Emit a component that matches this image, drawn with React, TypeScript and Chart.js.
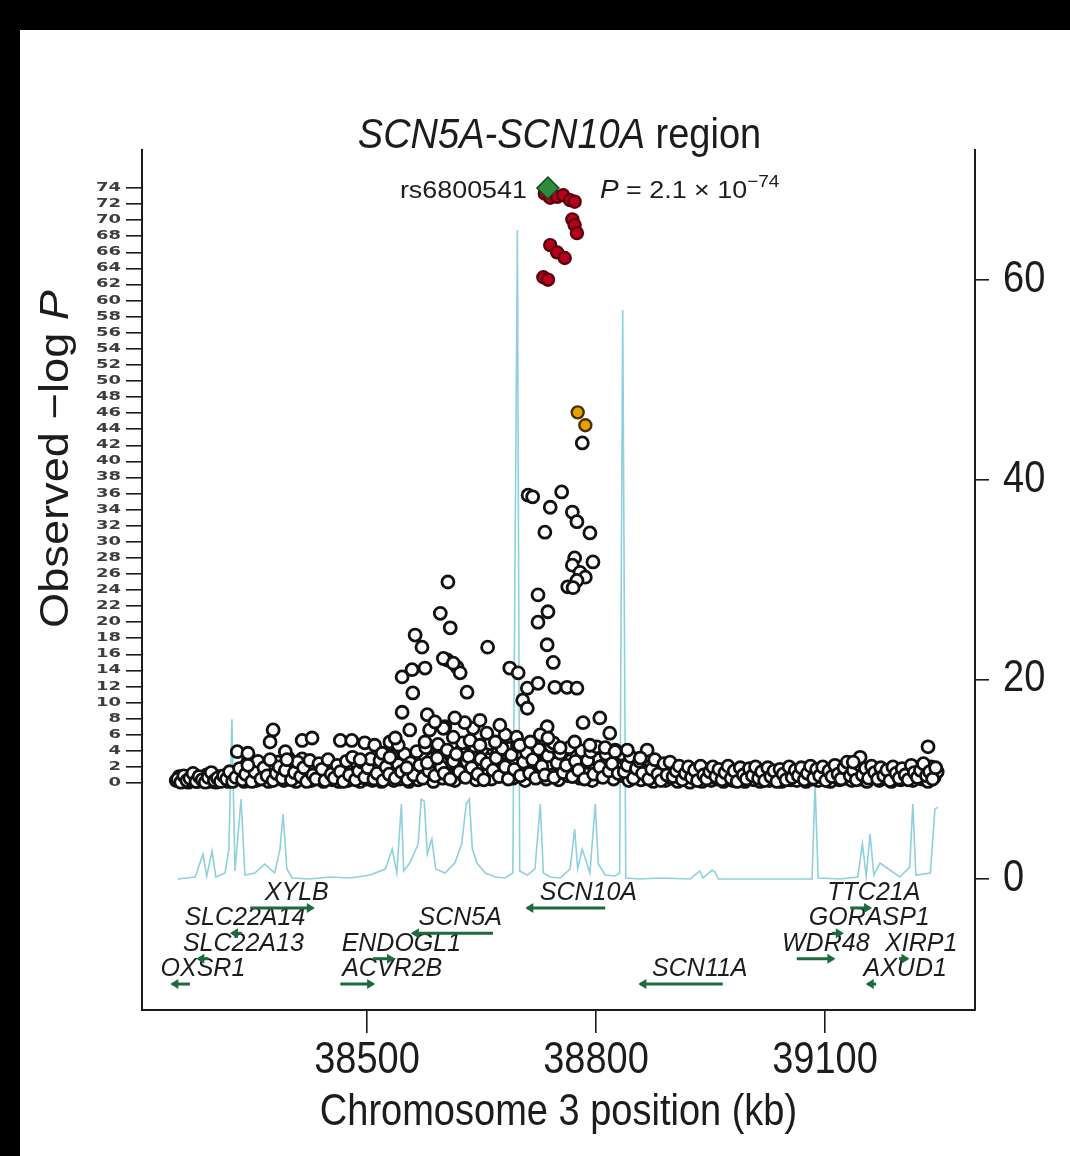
import React, { useEffect, useRef } from "react";
import { Chart, registerables } from "chart.js";

Chart.register(...registerables);

// ---------------- data ----------------
const xTicks = [38500, 38800, 39100];
const leftTicks = [0, 2, 4, 6, 8, 10, 12, 14, 16, 18, 20, 22, 24, 26, 28, 30, 32, 34, 36, 38, 40, 42, 44, 46, 48, 50, 52, 54, 56, 58, 60, 62, 64, 66, 68, 70, 72, 74];
const rightTicks = [0, 20, 40, 60];

const titleItalic = "SCN5A-SCN10A";
const titlePlain = " region";
const xTitle = "Chromosome 3 position (kb)";
const yTitlePlain = "Observed \u2212log ";
const yTitleItalic = "P";

const indexSnpName = "rs6800541";
const indexSnpMantissa = "2.1";
const indexSnpExponent = "\u221274";

// [position kb, -log10 P]
const indexSnp: [number, number][] = [[38737, 74.0]];

const redSnps: [number, number][] = [
  [38733, 73.3], [38740, 72.8], [38749, 72.9], [38757, 73.1], [38766, 72.5], [38772, 72.3],
  [38769, 70.1], [38772, 69.4], [38775, 68.4], [38740, 66.9], [38749, 66.0], [38759, 65.3],
  [38731, 62.9], [38737, 62.6],
];

const orangeSnps: [number, number][] = [[38776, 46.1], [38786, 44.5]];

const clusterSnps: [number, number][] = [
  [38782, 42.3],
  [38711, 35.8], [38717, 35.6], [38755, 36.2], [38740, 34.3], [38769, 33.7], [38775, 32.5],
  [38792, 31.1], [38733, 31.2], [38772, 28.0], [38796, 27.5], [38769, 27.1], [38779, 26.2],
  [38786, 25.6], [38775, 25.2], [38763, 24.4], [38770, 24.3], [38724, 23.4], [38737, 21.3],
  [38724, 20.0], [38736, 17.2], [38744, 15.0], [38606, 25.0], [38596, 21.1], [38609, 19.3],
  [38658, 16.9], [38605, 15.3], [38618, 14.4], [38622, 13.7], [38631, 11.3], [38687, 14.3],
  [38698, 13.7], [38710, 11.8], [38724, 12.4], [38746, 11.9], [38762, 11.9], [38775, 11.8],
  [38704, 10.3], [38710, 9.3], [38805, 8.1], [38818, 6.2], [38783, 7.5], [38736, 7.0],
  [38727, 6.0], [38744, 5.0], [38696, 5.7], [38681, 6.0], [38657, 6.2], [38639, 6.8],
  [38628, 7.5], [38602, 7.0], [38613, 5.7],
  [38563, 18.4], [38572, 16.9], [38600, 15.5], [38613, 14.9], [38576, 14.3], [38559, 14.1],
  [38546, 13.2], [38560, 11.2], [38546, 8.8], [38579, 8.5], [38582, 6.6], [38600, 6.8],
  [38576, 5.1], [38377, 6.6], [38373, 5.1], [38415, 5.3], [38428, 5.6], [38465, 5.3],
  [38480, 5.3], [38497, 5.0], [38510, 4.7], [38530, 5.1], [38541, 4.7], [38330, 3.9],
  [38344, 3.7], [38344, 2.2], [38393, 3.9], [38395, 2.9], [38491, 2.9], [38520, 3.7],
  [38530, 3.2], [38552, 1.9], [38579, 2.5], [38592, 3.1],
  [38841, 4.1], [38867, 4.1], [38858, 3.1], [39146, 3.2], [39137, 2.6], [39235, 4.5],
  [38635, 5.3], [38648, 4.7], [38668, 5.1], [38700, 4.7], [38753, 4.4], [38772, 5.1],
  [38792, 4.7], [38812, 4.4], [38825, 3.9], [38674, 7.2], [38648, 7.8], [38615, 8.1],
  [38589, 7.6], [38714, 5.1], [38737, 5.6], [38556, 6.6], [38537, 5.6],
];

const backgroundSnps: [number, number][] = [
  [38250, 0.3], [38254, 0.8], [38258, 0.2], [38262, 0.6], [38266, 0.1], [38270, 0.9], [38274, 0.4],
  [38278, 0.2], [38282, 0.7], [38286, 0.3], [38290, 1.0], [38294, 0.2], [38298, 0.5], [38302, 0.1],
  [38306, 0.8], [38310, 0.3], [38314, 0.6], [38318, 0.2], [38322, 1.1], [38326, 0.4],
  [38331, 0.6], [38335, 1.3], [38339, 0.2], [38343, 2.4], [38347, 0.9], [38351, 1.6], [38355, 0.3],
  [38359, 2.0], [38363, 0.7], [38367, 1.2], [38371, 0.2], [38375, 1.8], [38379, 0.5], [38383, 2.6],
  [38387, 1.0], [38391, 0.3], [38395, 1.5], [38399, 0.6], [38403, 2.3], [38407, 0.2], [38411, 1.1],
  [38415, 3.0], [38419, 0.5], [38423, 1.7], [38427, 0.3], [38431, 2.1], [38435, 0.8], [38439, 1.4],
  [38443, 0.2], [38447, 0.9], [38451, 2.0], [38455, 0.4], [38459, 1.2], [38463, 0.2], [38467, 1.9],
  [38471, 0.7], [38475, 0.3], [38479, 1.5], [38483, 0.6], [38487, 2.4], [38491, 0.2], [38495, 1.0],
  [38499, 0.5], [38503, 1.7], [38507, 0.3], [38511, 2.2], [38515, 0.8], [38519, 0.2], [38523, 1.4],
  [38527, 0.6], [38531, 2.5], [38535, 0.3], [38539, 1.1], [38543, 0.5], [38547, 2.0], [38551, 0.9],
  [38555, 0.2], [38559, 1.6],
  [38563, 2.8], [38567, 0.4], [38571, 1.3], [38575, 3.4], [38579, 0.7], [38583, 2.0], [38587, 0.2],
  [38591, 1.5], [38595, 3.8], [38599, 0.6], [38603, 2.4], [38607, 1.0], [38611, 3.2], [38615, 0.3],
  [38619, 1.8], [38623, 4.0], [38627, 0.8], [38631, 2.6], [38635, 1.2], [38639, 3.5], [38643, 0.4],
  [38647, 2.0], [38651, 4.2], [38655, 1.0], [38659, 2.9], [38663, 0.5], [38667, 1.6], [38671, 3.7],
  [38675, 0.9], [38679, 2.3], [38683, 1.3], [38687, 4.3], [38691, 0.6], [38695, 2.7], [38699, 1.1],
  [38703, 3.3], [38707, 0.3], [38711, 1.9], [38715, 4.5], [38719, 0.8], [38723, 2.5], [38727, 1.4],
  [38731, 3.9], [38735, 0.5], [38739, 2.2], [38743, 1.0], [38747, 3.1], [38751, 0.4], [38755, 1.7],
  [38759, 4.1], [38763, 0.9], [38767, 2.8], [38771, 1.3], [38775, 3.6], [38779, 0.6], [38783, 2.1],
  [38787, 1.1], [38791, 3.4], [38795, 0.3], [38799, 1.8], [38803, 2.9], [38807, 0.8], [38811, 2.3],
  [38815, 1.4], [38819, 3.2], [38823, 0.5], [38827, 1.9], [38831, 2.6],
  [38835, 0.9], [38839, 2.8], [38843, 0.3], [38847, 2.4], [38851, 1.0], [38855, 3.0], [38859, 0.4],
  [38863, 2.1], [38867, 0.8], [38871, 2.6], [38875, 0.2], [38879, 1.9], [38883, 0.7], [38887, 2.2],
  [38891, 0.3], [38895, 1.6], [38899, 0.6], [38903, 2.0], [38907, 0.2], [38911, 1.3], [38915, 0.5],
  [38919, 1.8], [38923, 0.1], [38927, 1.0], [38931, 0.4], [38935, 1.5], [38939, 0.2], [38943, 0.9],
  [38947, 1.7], [38951, 0.3], [38955, 1.1], [38959, 0.5], [38963, 1.4], [38967, 0.2], [38971, 0.8],
  [38975, 1.6], [38979, 0.3], [38983, 1.0], [38987, 0.6], [38991, 1.3], [38995, 0.2], [38999, 0.9],
  [39003, 1.5], [39007, 0.4], [39011, 1.1], [39015, 0.2], [39019, 0.8], [39023, 1.4], [39027, 0.3],
  [39031, 1.0], [39035, 0.6], [39039, 1.2], [39043, 0.2], [39047, 0.9], [39051, 1.6], [39055, 0.4],
  [39059, 1.1], [39063, 0.3], [39067, 1.3], [39071, 0.7], [39075, 0.2], [39079, 1.5], [39083, 0.5],
  [39087, 1.0], [39091, 0.3], [39095, 1.2], [39099, 0.6], [39103, 1.4], [39107, 0.2], [39111, 1.0],
  [39115, 1.7], [39119, 0.4], [39123, 1.2], [39127, 0.6], [39131, 2.0], [39135, 0.3], [39139, 1.1],
  [39143, 1.8], [39147, 0.5], [39151, 1.3], [39155, 0.2], [39159, 1.6], [39163, 0.7], [39167, 1.0],
  [39171, 0.3], [39175, 1.4], [39179, 0.6], [39183, 1.1], [39187, 0.2], [39191, 1.5], [39195, 0.8],
  [39199, 0.4], [39203, 1.2], [39207, 0.6], [39211, 1.7], [39215, 0.3], [39219, 1.0], [39223, 1.9],
  [39227, 0.5], [39231, 1.3], [39235, 0.2], [39239, 2.0], [39243, 0.7], [39247, 1.4],
];

const backgroundSnps2: [number, number][] = [
  [38252, 0.5], [38256, 0.1], [38260, 0.9], [38264, 0.3], [38268, 0.6], [38272, 1.2], [38276, 0.2],
  [38280, 0.8], [38284, 0.4], [38288, 0.1], [38292, 0.7], [38296, 1.3], [38300, 0.3], [38304, 0.6],
  [38308, 0.2], [38312, 0.9], [38316, 0.5], [38320, 1.4], [38324, 0.2], [38328, 0.7],
  [38333, 1.8], [38337, 0.4], [38341, 1.1], [38345, 3.0], [38349, 0.2], [38353, 1.4], [38357, 2.7],
  [38361, 0.5], [38365, 1.9], [38369, 0.9], [38373, 2.9], [38377, 0.3], [38381, 1.2], [38385, 2.0],
  [38389, 0.6], [38393, 1.6], [38397, 3.1], [38401, 0.4], [38405, 1.3], [38409, 2.6], [38413, 0.8],
  [38417, 1.9], [38421, 0.2], [38425, 2.8], [38429, 1.0], [38433, 0.5], [38437, 2.4], [38441, 1.7],
  [38445, 0.3], [38449, 2.9], [38453, 1.1], [38457, 0.6], [38461, 2.2], [38465, 1.4], [38469, 0.2],
  [38473, 2.7], [38477, 1.0], [38481, 3.2], [38485, 0.4], [38489, 1.5], [38493, 2.6], [38497, 0.7],
  [38501, 1.9], [38505, 3.0], [38509, 0.5], [38513, 1.2], [38517, 2.8], [38521, 0.3], [38525, 2.0],
  [38529, 1.1], [38533, 3.4], [38537, 0.6], [38541, 2.3], [38545, 1.4], [38549, 3.6], [38553, 0.4],
  [38557, 2.5],
  [38561, 1.0], [38565, 3.9], [38569, 2.2], [38573, 0.6], [38577, 4.4], [38581, 1.5], [38585, 3.0],
  [38589, 0.9], [38593, 4.8], [38597, 2.0], [38601, 1.2], [38605, 4.1], [38609, 0.5], [38613, 2.7],
  [38617, 3.6], [38621, 1.4], [38625, 5.0], [38629, 0.7], [38633, 3.3], [38637, 1.9], [38641, 4.6],
  [38645, 1.1], [38649, 3.0], [38653, 0.4], [38657, 2.4], [38661, 4.9], [38665, 1.6], [38669, 3.1],
  [38673, 0.8], [38677, 4.3], [38681, 2.0], [38685, 0.5], [38689, 3.5], [38693, 1.7], [38697, 4.7],
  [38701, 0.9], [38705, 2.6], [38709, 3.8], [38713, 1.2], [38717, 2.9], [38721, 0.6], [38725, 4.2],
  [38729, 2.1], [38733, 1.0], [38737, 3.4], [38741, 4.6], [38745, 0.7], [38749, 2.5], [38753, 3.7],
  [38757, 1.3], [38761, 2.2], [38765, 4.4], [38769, 0.8], [38773, 2.7], [38777, 1.6], [38781, 4.0],
  [38785, 0.5], [38789, 2.8], [38793, 3.9], [38797, 1.1], [38801, 4.5], [38805, 2.0], [38809, 0.7],
  [38813, 3.6], [38817, 1.5], [38821, 2.4], [38825, 4.1], [38829, 1.2],
  [38833, 3.6], [38837, 1.4], [38841, 2.2], [38845, 3.3], [38849, 0.6], [38853, 1.8], [38857, 2.7],
  [38861, 1.2], [38865, 3.4], [38869, 0.5], [38873, 1.7], [38877, 2.9], [38881, 1.1], [38885, 0.3],
  [38889, 2.4], [38893, 1.0], [38897, 2.6], [38901, 0.8], [38905, 1.5], [38909, 2.1], [38913, 0.4],
  [38917, 1.2], [38921, 2.0], [38925, 0.7], [38929, 1.6], [38933, 0.3], [38937, 2.1], [38941, 1.0],
  [38945, 0.5], [38949, 1.4], [38953, 2.0], [38957, 0.8], [38961, 1.7], [38965, 0.4], [38969, 1.3],
  [38973, 2.1], [38977, 0.6], [38981, 1.5], [38985, 0.2], [38989, 1.9], [38993, 1.0], [38997, 0.5],
  [39001, 1.8], [39005, 0.9], [39009, 2.0], [39013, 0.6], [39017, 1.4], [39021, 0.3], [39025, 1.9],
  [39029, 0.8], [39033, 1.5], [39037, 0.2], [39041, 1.7], [39045, 1.1], [39049, 0.4], [39053, 2.0],
  [39057, 0.7], [39061, 1.6], [39065, 0.9], [39069, 1.9], [39073, 0.4], [39077, 1.2], [39081, 2.1],
  [39085, 0.6], [39089, 1.7], [39093, 0.9], [39097, 2.0], [39101, 0.3], [39105, 1.5], [39109, 0.8],
  [39113, 2.2], [39117, 1.1], [39121, 0.5], [39125, 1.9], [39129, 2.6], [39133, 0.9], [39137, 1.6],
  [39141, 0.4], [39145, 2.3], [39149, 1.0], [39153, 1.8], [39157, 0.6], [39161, 2.1], [39165, 1.3],
  [39169, 0.5], [39173, 1.9], [39177, 0.9], [39181, 1.6], [39185, 0.3], [39189, 2.0], [39193, 1.2],
  [39197, 0.6], [39201, 1.8], [39205, 1.0], [39209, 0.4], [39213, 2.2], [39217, 1.3], [39221, 0.7],
  [39225, 1.6], [39229, 2.4], [39233, 0.9], [39237, 1.4], [39241, 0.5], [39245, 1.9],
];

// recombination rate (cM/Mb)
const recombKb = [38252, 38275, 38285, 38290, 38297, 38302, 38314, 38319, 38323, 38327, 38335, 38340, 38353, 38366, 38379, 38386, 38390, 38395, 38402, 38425, 38451, 38478, 38504, 38524, 38533, 38539, 38545, 38548, 38556, 38567, 38571, 38575, 38579, 38585, 38590, 38602, 38615, 38624, 38630, 38634, 38638, 38644, 38655, 38668, 38681, 38691, 38697, 38700, 38710, 38720, 38727, 38731, 38740, 38753, 38766, 38772, 38776, 38782, 38792, 38799, 38803, 38812, 38825, 38831, 38835, 38839, 38858, 38884, 38923, 38936, 38940, 38952, 38956, 38960, 38989, 39028, 39067, 39083, 39087, 39091, 39120, 39143, 39149, 39154, 39159, 39164, 39172, 39198, 39211, 39215, 39219, 39238, 39244, 39248];
const recombRate = [0.0, 0.2, 2.5, 0.3, 2.8, 0.2, 0.6, 3.0, 16.0, 0.8, 8.0, 0.4, 0.6, 1.5, 0.6, 3.0, 6.5, 1.0, 0.1, 0.0, 0.2, 0.1, 0.4, 1.0, 3.0, 0.6, 7.5, 0.8, 1.6, 3.5, 8.0, 7.8, 2.5, 4.0, 1.0, 0.6, 1.6, 3.5, 7.5, 8.0, 3.0, 1.6, 0.6, 0.2, 0.1, 0.6, 65.0, 0.8, 0.4, 1.0, 7.5, 0.6, 0.2, 0.1, 1.0, 5.0, 1.0, 3.0, 0.6, 7.5, 1.5, 0.4, 0.3, 0.6, 57.0, 0.1, 0.0, 0.1, 0.0, 0.8, 0.1, 0.9, 0.7, 0.0, 0.0, 0.0, 0.0, 0.0, 9.5, 0.1, 0.0, 0.2, 3.5, 0.3, 4.5, 0.4, 1.6, 0.2, 1.2, 7.5, 0.4, 0.6, 7.0, 7.2];

// genes
const geneNames = ["XYLB", "SCN10A", "TTC21A", "SLC22A14", "SCN5A", "GORASP1", "SLC22A13", "ENDOGL1", "WDR48", "XIRP1", "OXSR1", "ACVR2B", "SCN11A", "AXUD1"];
const geneStart = [38347, 38710, 39133, 38323, 38560, 39109, 38279, 38508, 39063, 39197, 38245, 38465, 38858, 39156];
const geneEnd = [38429, 38812, 39159, 38336, 38665, 39122, 38292, 38534, 39111, 39208, 38268, 38508, 38966, 39167];
const geneStrand = [1, -1, 1, -1, -1, 1, -1, 1, 1, 1, -1, 1, -1, -1];
const geneRow = [1, 1, 1, 2, 2, 2, 3, 3, 3, 3, 4, 4, 4, 4];
const geneLabelKb = [38408, 38790, 39164, 38340, 38622, 39158, 38338, 38545, 39101, 39226, 38285, 38533, 38936, 39205];

// ---------------- styles / layout ----------------
const FONT = '"Liberation Sans", Arial, Helvetica, sans-serif';
const INK = "#1c1c1c";
const GENE_COLOR = "#1d6b3b";
const RECOMB_COLOR = "#8fd0de";
const CANVAS_W = 1050;
const CANVAS_H = 1126;
const X_MIN = 38205.2;
const X_MAX = 39296.5;
const Y_MIN = -28.23;
const Y_MAX = 78.73;
const R_MIN = -13.12;
const R_MAX = 73.02;
const GENE_ROW_TOP = -2.9;
const GENE_ROW_STEP = 2.54;
const SNP_RADIUS = 6;
const SNP_BORDER = 2.8;

function drawText(
  ctx: CanvasRenderingContext2D,
  s: string,
  x: number,
  y: number,
  font: string,
  align: CanvasTextAlign,
  baseline: CanvasTextBaseline,
  sx = 1,
  sy = 1,
  color = INK
) {
  ctx.save();
  ctx.translate(x, y);
  ctx.scale(sx, sy);
  ctx.font = font;
  ctx.fillStyle = color;
  ctx.textAlign = align;
  ctx.textBaseline = baseline;
  ctx.fillText(s, 0, 0);
  ctx.restore();
}

const annotPlugin = {
  id: "locusAnnot",
  afterDatasetsDraw(chart: any) {
    const ctx: CanvasRenderingContext2D = chart.ctx;
    const xs = chart.scales.x;
    const yr = chart.scales.yR;
    const rowY = (r: number) => yr.getPixelForValue(GENE_ROW_TOP - (r - 1) * GENE_ROW_STEP);
    ctx.save();
    geneNames.forEach((n, i) => {
      const y = rowY(geneRow[i]);
      drawText(ctx, n, xs.getPixelForValue(geneLabelKb[i]), y - 8, `italic 25px ${FONT}`, "center", "alphabetic", 1, 1, INK);
    });
    ctx.strokeStyle = GENE_COLOR;
    ctx.fillStyle = GENE_COLOR;
    ctx.lineWidth = 3;
    geneNames.forEach((_, i) => {
      const x1 = xs.getPixelForValue(geneStart[i]);
      const x2 = xs.getPixelForValue(geneEnd[i]);
      const y = rowY(geneRow[i]);
      ctx.beginPath();
      ctx.moveTo(x1, y);
      ctx.lineTo(x2, y);
      ctx.stroke();
      const dir = geneStrand[i];
      const tip = dir > 0 ? x2 + 2 : x1 - 2;
      ctx.beginPath();
      ctx.moveTo(tip, y);
      ctx.lineTo(tip - dir * 8, y - 5);
      ctx.lineTo(tip - dir * 8, y + 5);
      ctx.closePath();
      ctx.fill();
    });
    ctx.restore();
  },
  afterDraw(chart: any) {
    const ctx: CanvasRenderingContext2D = chart.ctx;
    const xs = chart.scales.x;
    const ys = chart.scales.y;
    const yr = chart.scales.yR;
    const area = chart.chartArea;

    leftTicks.forEach((v) => {
      drawText(ctx, String(v), area.left - 21, ys.getPixelForValue(v), `bold 12px "DejaVu Sans", ${FONT}`, "right", "middle", 1.5, 0.95, "#3d3d3d");
    });
    rightTicks.forEach((v) => {
      drawText(ctx, String(v), area.right + 28, yr.getPixelForValue(v), `38px ${FONT}`, "left", "middle", 1, 1.15, INK);
    });
    xTicks.forEach((v) => {
      drawText(ctx, String(v), xs.getPixelForValue(v), area.bottom + 63, `38px ${FONT}`, "center", "alphabetic", 1, 1.15, INK);
    });

    drawText(ctx, xTitle, (area.left + area.right) / 2, area.bottom + 115, `38px ${FONT}`, "center", "alphabetic", 1, 1.15, INK);

    {
      const cx = (area.left + area.right) / 2 + 1;
      const by = area.top - 2;
      ctx.save();
      ctx.font = `italic 38px ${FONT}`;
      const w1 = ctx.measureText(titleItalic).width;
      ctx.font = `38px ${FONT}`;
      const w2 = ctx.measureText(titlePlain).width;
      const sx0 = cx - (w1 + w2) / 2;
      drawText(ctx, titleItalic, sx0, by, `italic 38px ${FONT}`, "left", "alphabetic", 1, 1.1, INK);
      drawText(ctx, titlePlain, sx0 + w1, by, `38px ${FONT}`, "left", "alphabetic", 1, 1.1, INK);
      ctx.restore();
    }

    {
      ctx.save();
      ctx.translate(48, (area.top + area.bottom) / 2 - 121);
      ctx.rotate(-Math.PI / 2);
      ctx.scale(1.13, 1);
      ctx.font = `40px ${FONT}`;
      const w1 = ctx.measureText(yTitlePlain).width;
      ctx.font = `italic 40px ${FONT}`;
      const w2 = ctx.measureText(yTitleItalic).width;
      const x0 = -(w1 + w2) / 2;
      ctx.fillStyle = INK;
      ctx.textAlign = "left";
      ctx.textBaseline = "alphabetic";
      ctx.font = `40px ${FONT}`;
      ctx.fillText(yTitlePlain, x0, 0);
      ctx.font = `italic 40px ${FONT}`;
      ctx.fillText(yTitleItalic, x0 + w1, 0);
      ctx.restore();
    }

    {
      const px = xs.getPixelForValue(indexSnp[0][0]);
      const py = ys.getPixelForValue(indexSnp[0][1]) + 10;
      drawText(ctx, indexSnpName, px - 21, py, `24px ${FONT}`, "right", "alphabetic", 1.12, 1, INK);
      ctx.save();
      ctx.translate(px + 52, py);
      ctx.scale(1.12, 1);
      ctx.fillStyle = INK;
      ctx.textAlign = "left";
      ctx.textBaseline = "alphabetic";
      ctx.font = `italic 25px ${FONT}`;
      ctx.fillText("P", 0, 0);
      let x = ctx.measureText("P").width;
      ctx.font = `24px ${FONT}`;
      const mid = ` = ${indexSnpMantissa} \u00d7 10`;
      ctx.fillText(mid, x, 0);
      x += ctx.measureText(mid).width;
      ctx.font = `17px ${FONT}`;
      ctx.fillText(indexSnpExponent, x, -11);
      ctx.restore();
    }
  },
};

const pts = (arr: [number, number][]) => arr.map(([x, y]) => ({ x, y }));

const openCircle = {
  pointRadius: SNP_RADIUS,
  pointBorderWidth: SNP_BORDER,
  pointBackgroundColor: "#ffffff",
  pointBorderColor: "#111111",
};

export default function App() {
  const ref = useRef<HTMLCanvasElement>(null);
  useEffect(() => {
    const canvas = ref.current;
    if (!canvas) return;
    const chart = new Chart(canvas, {
      type: "scatter",
      data: {
        datasets: [
          {
            type: "line",
            label: "Recombination rate",
            data: recombKb.map((k, i) => ({ x: k, y: recombRate[i] })),
            yAxisID: "yR",
            borderColor: RECOMB_COLOR,
            borderWidth: 1.6,
            pointRadius: 0,
            showLine: true,
            fill: false,
            tension: 0,
            order: 10,
          } as any,
          { label: "SNPs", data: pts(backgroundSnps), yAxisID: "y", ...openCircle, order: 7 },
          { label: "SNPs b", data: pts(backgroundSnps2), yAxisID: "y", ...openCircle, order: 6 },
          { label: "SNPs (cluster)", data: pts(clusterSnps), yAxisID: "y", ...openCircle, order: 5 },
          {
            label: "r2 0.5-0.8",
            data: pts(orangeSnps),
            yAxisID: "y",
            pointRadius: SNP_RADIUS,
            pointBorderWidth: 2.4,
            pointBackgroundColor: "#e3a200",
            pointBorderColor: "#4a3000",
            order: 4,
          },
          {
            label: "r2 > 0.8",
            data: pts(redSnps),
            yAxisID: "y",
            pointRadius: SNP_RADIUS,
            pointBorderWidth: 2.4,
            pointBackgroundColor: "#b8001e",
            pointBorderColor: "#5c0010",
            order: 3,
          },
          {
            label: indexSnpName,
            data: pts(indexSnp),
            yAxisID: "y",
            pointRadius: 11,
            pointStyle: "rectRot",
            pointBorderWidth: 1.5,
            pointBackgroundColor: "#2f8a40",
            pointBorderColor: "#0f4a1c",
            order: 1,
          },
        ],
      },
      options: {
        animation: false,
        responsive: false,
        devicePixelRatio: 1,
        layout: { padding: { top: 120, left: 0, right: 0, bottom: 0 } },
        plugins: { legend: { display: false }, tooltip: { enabled: false }, title: { display: false } },
        scales: {
          x: {
            type: "linear",
            position: "bottom",
            min: X_MIN,
            max: X_MAX,
            afterBuildTicks: (s: any) => {
              s.ticks = xTicks.map((v) => ({ value: v }));
            },
            afterFit: (s: any) => {
              s.height = 146;
            },
            grid: { drawOnChartArea: false, drawTicks: true, tickLength: 23, color: INK, lineWidth: 1.6 },
            border: { display: true, color: INK, width: 2 },
            ticks: { display: false },
          },
          y: {
            type: "linear",
            position: "left",
            min: Y_MIN,
            max: Y_MAX,
            afterBuildTicks: (s: any) => {
              s.ticks = leftTicks.map((v) => ({ value: v }));
            },
            afterFit: (s: any) => {
              s.width = 122;
            },
            grid: { drawOnChartArea: false, drawTicks: true, tickLength: 16, color: INK, lineWidth: 1.6 },
            border: { display: true, color: INK, width: 2 },
            ticks: { display: false },
          },
          yR: {
            type: "linear",
            position: "right",
            min: R_MIN,
            max: R_MAX,
            afterBuildTicks: (s: any) => {
              s.ticks = rightTicks.map((v) => ({ value: v }));
            },
            afterFit: (s: any) => {
              s.width = 95;
            },
            grid: { drawOnChartArea: false, drawTicks: true, tickLength: 14, color: INK, lineWidth: 1.6 },
            border: { display: true, color: INK, width: 2 },
            ticks: { display: false },
          },
        },
      } as any,
      plugins: [annotPlugin as any],
    });
    return () => chart.destroy();
  }, []);

  return (
    <div style={{ position: "fixed", left: 0, top: 0, width: 1070, height: 1156, background: "#000", overflow: "hidden" }}>
      <canvas
        ref={ref}
        width={CANVAS_W}
        height={CANVAS_H}
        style={{ position: "absolute", left: 20, top: 30, width: CANVAS_W, height: CANVAS_H, background: "#fff" }}
      />
    </div>
  );
}
